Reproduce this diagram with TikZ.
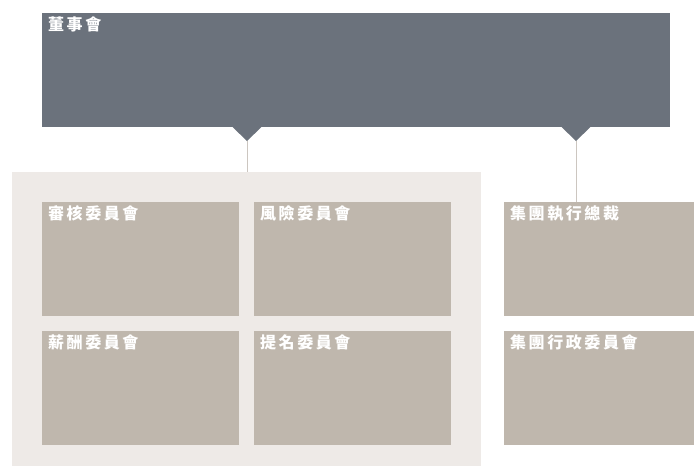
\documentclass[tikz,border=0pt]{standalone}
\usepackage{fontspec}
\newfontfamily\cjk{Noto Sans CJK TC}[LetterSpace=16]
\definecolor{boardgray}{HTML}{6B727C}
\definecolor{boxtan}{HTML}{BFB7AD}
\definecolor{panelbg}{HTML}{EEEAE7}
\definecolor{linktan}{HTML}{CCC6C0}
\begin{document}
\begin{tikzpicture}[x=1pt,y=-1pt,
  board/.style={fill=boardgray, draw=none, inner sep=0pt, anchor=north west, minimum width=628pt, minimum height=114pt},
  panel/.style={fill=panelbg, draw=none, inner sep=0pt, anchor=north west, minimum width=469pt, minimum height=294pt},
  cbox/.style={fill=boxtan, draw=none, inner sep=0pt, anchor=north west, minimum width=197pt, minimum height=114pt},
  rbox/.style={fill=boxtan, draw=none, inner sep=0pt, anchor=north west, minimum width=190pt, minimum height=114pt},
  lbl/.style={text=white, inner sep=0pt, anchor=base west, font=\cjk\bfseries\fontsize{16pt}{16pt}\selectfont},
  link/.style={draw=linktan, line width=1pt},
  pointer/.style={fill=boardgray, draw=none}]
\useasboundingbox (0,0) rectangle (694,466);
% board
\node[board] (board) at (42,13) {};
\fill[pointer] (232,126.5) -- (262,126.5) -- (247,141) -- cycle;
\fill[pointer] (561,126.5) -- (591,126.5) -- (576,141) -- cycle;
\coordinate (t1) at (247,141);
\coordinate (t2) at (576,141);
% committee panel
\node[panel] (panel) at (12,172) {};
\node[cbox] (audit) at (42,202) {};
\node[cbox] (risk) at (254,202) {};
\node[cbox] (remun) at (42,331) {};
\node[cbox] (nomin) at (254,331) {};
% right column
\node[rbox] (ceo) at (504,202) {};
\node[rbox] (exec) at (504,331) {};
% connectors
\draw[link] (t1) -- (t1 |- panel.north);
\draw[link] (t2) -- (t2 |- ceo.north);
% labels
\node[lbl] (lboard) at ([xshift=6pt,yshift=-17pt]board.north west) {董事會};
\node[lbl] (laudit) at ([xshift=6pt,yshift=-17pt]audit.north west) {審核委員會};
\node[lbl] (lrisk) at ([xshift=6pt,yshift=-17pt]risk.north west) {風險委員會};
\node[lbl] (lremun) at ([xshift=6pt,yshift=-17pt]remun.north west) {薪酬委員會};
\node[lbl] (lnomin) at ([xshift=6pt,yshift=-17pt]nomin.north west) {提名委員會};
\node[lbl] (lceo) at ([xshift=6pt,yshift=-17pt]ceo.north west) {集團執行總裁};
\node[lbl] (lexec) at ([xshift=6pt,yshift=-17pt]exec.north west) {集團行政委員會};
\end{tikzpicture}
\end{document}
